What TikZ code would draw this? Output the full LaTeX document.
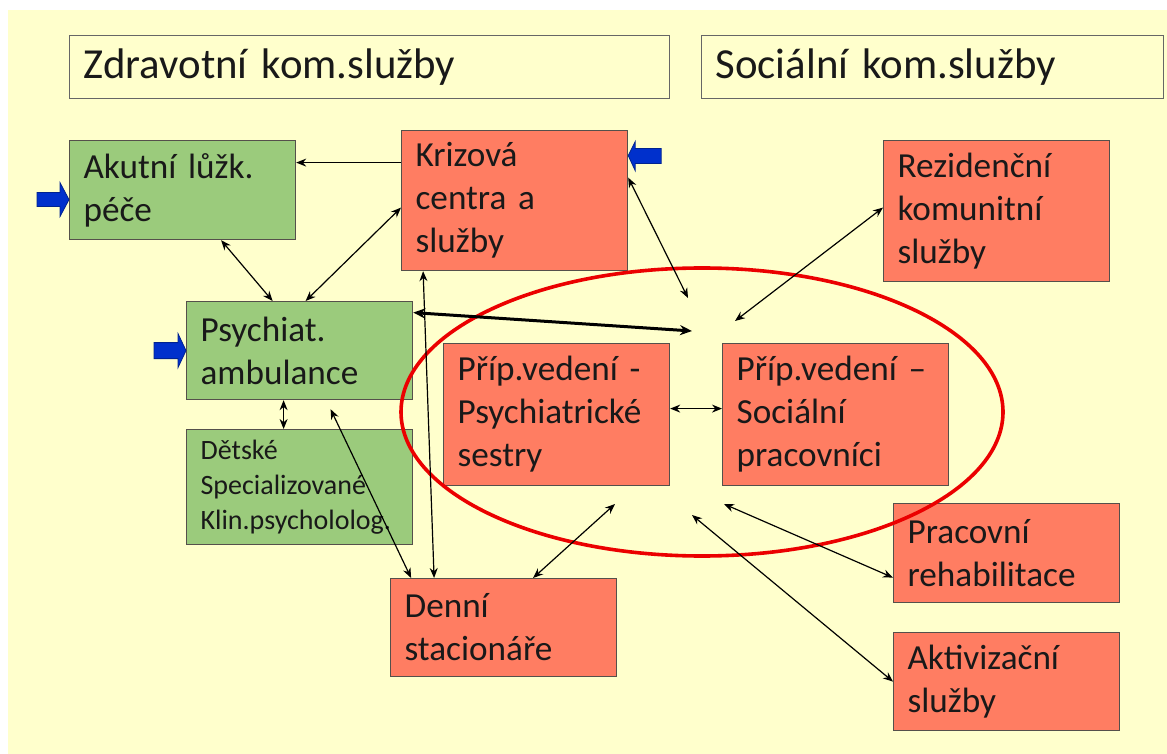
\documentclass[tikz,border=0pt]{standalone}
\usepackage{fontspec}
\setmainfont{Carlito}
\usetikzlibrary{arrows.meta,positioning}

\definecolor{cream}{RGB}{255,255,204}
\definecolor{leafgreen}{RGB}{155,203,124}
\definecolor{salmon}{RGB}{255,125,98}
\definecolor{pushblue}{RGB}{0,48,204}
\definecolor{rimgray}{RGB}{85,80,75}
\definecolor{ringred}{RGB}{235,0,0}

\begin{document}
\begin{tikzpicture}[x=0.5pt,y=-0.5pt,
  box/.style={draw=rimgray,line width=0.6pt,anchor=north west,align=left,
    inner xsep=7pt,inner ysep=0pt,text width=99pt,text=black!90,
    font=\fontsize{17.6}{21.5}\selectfont},
  healthbox/.style={box,fill=leafgreen},
  carebox/.style={box,fill=salmon},
  headbox/.style={box,fill=cream,draw=black!60,font=\fontsize{21.4}{25}\selectfont},
  link/.style={{Stealth[length=5pt,width=4pt]}-{Stealth[length=5pt,width=4pt]},line width=0.6pt},
  oneway/.style={-{Stealth[length=5pt,width=4pt]},line width=0.6pt},
  bigpush/.style={fill=pushblue,draw=pushblue!70!black,line width=0.4pt}]

\useasboundingbox (0,0) rectangle (1167,754);
\fill[cream] (8,10) rectangle (1167,754);

% headings
\node[headbox,text width=286pt,minimum height=31.5pt] (zdrav) at (69,35) {Zdravotní kom.služby};
\node[headbox,text width=217pt,minimum height=31.5pt] (social) at (701,35) {Sociální kom.služby};

% health services
\node[healthbox,minimum height=49.5pt] (akutni) at (69,140) {Akutní lůžk.\\péče};
\node[healthbox,minimum height=49pt] (psych) at (186,301) {Psychiat.\\ambulance};
\node[healthbox,minimum height=57.5pt,font=\fontsize{14}{17.5}\selectfont] (detske) at (186,429) {Dětské\\Specializované\\Klin.psychololog.};

% social and community services
\node[carebox,minimum height=70pt] (krizova) at (401,130) {Krizová\\centra a\\služby};
\node[carebox,minimum height=70.5pt] (rezid) at (883,140) {Rezidenční\\komunitní\\služby};
\node[carebox,minimum height=71pt] (pripA) at (443,343) {Příp.vedení -\\Psychiatrické\\sestry};
\node[carebox,minimum height=71pt] (pripB) at (722,343) {Příp.vedení –\\Sociální\\pracovníci};
\node[carebox,minimum height=49.5pt] (prac) at (893,503) {Pracovní\\rehabilitace};
\node[carebox,minimum height=49pt] (aktiv) at (893,632) {Aktivizační\\služby};
\node[carebox,minimum height=49pt] (denni) at (390,578) {Denní\\stacionáře};

% case management ring
\draw[ringred,line width=1.8pt] (702,412) ellipse [x radius=150.5pt,y radius=72pt];

% loose ends near the ring
\coordinate (hubA) at (692,331);
\coordinate (hubB) at (688,298);
\coordinate (hubC) at (735,321);
\coordinate (hubD) at (615,504);
\coordinate (hubE) at (692,515);
\coordinate (hubF) at (724,504);

% connectors
\draw[oneway] ([yshift=19pt]krizova.west) -- ([yshift=19pt]krizova.west -| akutni.east);
\draw[link] ([xshift=19.25pt]akutni.south) -- ([xshift=-13.5pt]psych.north);
\draw[link] ([yshift=-3.5pt]krizova.west) -- ([xshift=3pt]psych.north);
\draw[{Stealth[length=6pt,width=5pt]}-{Stealth[length=6pt,width=5pt]},line width=1.5pt] ([yshift=19pt]psych.east) -- (hubA);
\draw[link] ([xshift=-8pt]psych.south) -- ([xshift=-8pt]detske.north);
\draw[link] ([xshift=15.5pt,yshift=-4.5pt]psych.south) -- ([xshift=-46.25pt]denni.north);
\draw[link] ([xshift=-45.75pt]krizova.south) -- ([xshift=-34.75pt]denni.north);
\draw[link] ([yshift=11.5pt]krizova.east) -- (hubB);
\draw[link] ([yshift=1.75pt]rezid.west) -- (hubC);
\draw[link] ([yshift=3pt]pripA.east) -- ([yshift=3pt]pripB.west);
\draw[link] ([xshift=14.75pt]denni.north) -- (hubD);
\draw[link] (hubE) -- (aktiv.west);
\draw[link] (hubF) -- ([yshift=-12.25pt]prac.west);

% entry arrows
\fill[bigpush] ([yshift=-4.75pt]akutni.west) -- ++(-9,-17) -- ++(0,10) -- ++(-23,0) -- ++(0,14) -- ++(23,0) -- ++(0,10) -- cycle;
\fill[bigpush] (psych.west) -- ++(-8,-17) -- ++(0,9) -- ++(-24,0) -- ++(0,16) -- ++(24,0) -- ++(0,9) -- cycle;
\fill[bigpush] ([yshift=22.5pt]krizova.east) -- ++(7,-14) -- ++(0,7) -- ++(26,0) -- ++(0,15) -- ++(-26,0) -- ++(0,7) -- cycle;

\end{tikzpicture}
\end{document}
